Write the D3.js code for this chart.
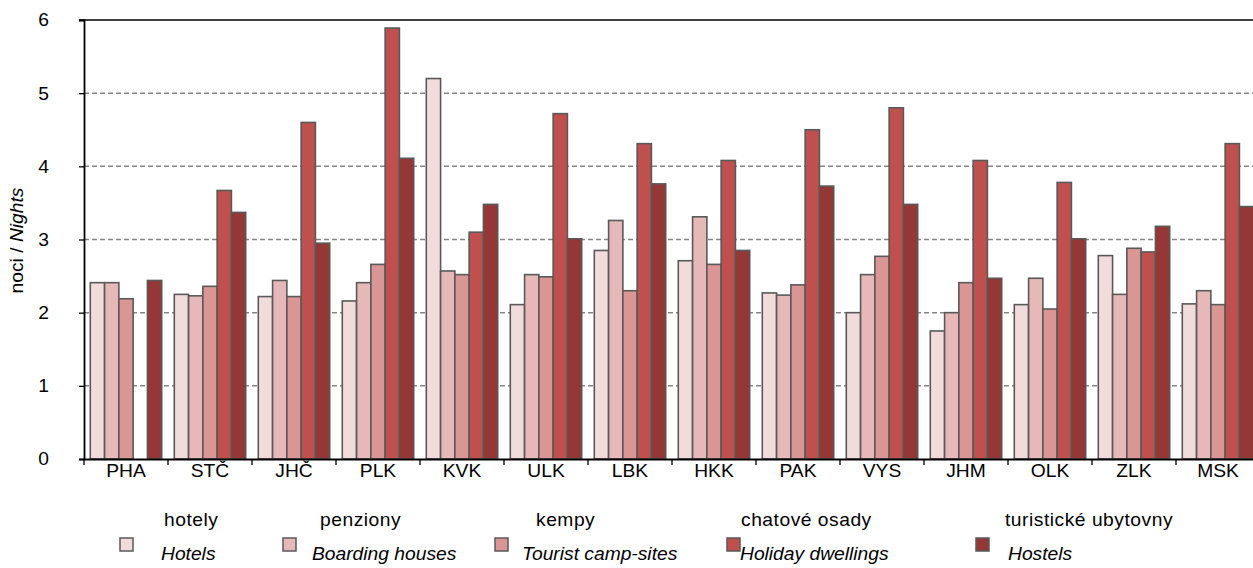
<!DOCTYPE html>
<html>
<head>
<meta charset="utf-8">
<script src="https://cdn.jsdelivr.net/npm/d3@7"></script>
<style>
  html, body { margin: 0; padding: 0; background: #fff; }
  svg { display: block; font-family: "Liberation Sans", Arial, sans-serif; }
</style>
</head>
<body>
<svg id="chart" width="1253" height="568"></svg>
<script>
// ---- data ----
const categories = ["PHA","STČ","JHČ","PLK","KVK","ULK","LBK","HKK","PAK","VYS","JHM","OLK","ZLK","MSK"];
const seriesCz = ["hotely","penziony","kempy","chatové osady","turistické ubytovny"];
const seriesEn = ["Hotels","Boarding houses","Tourist camp-sites","Holiday dwellings","Hostels"];
const hotely     = [2.41, 2.25, 2.22, 2.16, 5.20, 2.11, 2.85, 2.71, 2.27, 2.00, 1.75, 2.11, 2.78, 2.12];
const penziony   = [2.41, 2.23, 2.44, 2.41, 2.57, 2.52, 3.26, 3.31, 2.24, 2.52, 2.00, 2.47, 2.25, 2.30];
const kempy      = [2.19, 2.36, 2.22, 2.66, 2.52, 2.49, 2.30, 2.66, 2.38, 2.77, 2.41, 2.05, 2.88, 2.11];
const chatove    = [null, 3.67, 4.60, 5.89, 3.10, 4.72, 4.31, 4.08, 4.50, 4.80, 4.08, 3.78, 2.83, 4.31];
const turisticke = [2.44, 3.37, 2.95, 4.11, 3.48, 3.01, 3.76, 2.85, 3.73, 3.48, 2.47, 3.01, 3.18, 3.45];
const yTicks = [0, 1, 2, 3, 4, 5, 6];
const yTitleCz = "noci / ";
const yTitleEn = "Nights";

const seriesValues = [hotely, penziony, kempy, chatove, turisticke];
const colors = ["#F2DCDB", "#E6B9B8", "#D99694", "#C0504D", "#953735"];

// ---- layout ----
const svg = d3.select("#chart");
const pL = 84, pR = 1260, pT = 20, pB = 459;
const SX = 1.04; // horizontal text stretch
const FS = 18.5;
const FONT = '"Liberation Sans", Arial, sans-serif';

const x0 = d3.scaleBand().domain(categories).range([pL, pR]).paddingInner(0.15).paddingOuter(0.075);
const x1 = d3.scaleBand().domain(d3.range(seriesValues.length)).range([0, x0.bandwidth()]).padding(0);
const y = d3.scaleLinear().domain([0, 6]).range([pB, pT]);
const xCat = d3.scaleBand().domain(categories).range([pL, pR]);

// gridlines
svg.append("g").selectAll("line").data(yTicks.filter(t => t > 0 && t < 6)).join("line")
  .attr("x1", pL).attr("x2", 1253).attr("y1", d => y(d)).attr("y2", d => y(d))
  .attr("stroke", "#868686").attr("stroke-width", 1.5).attr("stroke-dasharray", "5,3");
svg.append("line").attr("x1", pL - 5).attr("x2", 1253).attr("y1", y(6)).attr("y2", y(6))
  .attr("stroke", "#000").attr("stroke-width", 1.6);

// bars
const rows = [];
categories.forEach((c, i) => seriesValues.forEach((s, j) => {
  if (s[i] != null) rows.push({ c, j, v: s[i] });
}));
svg.append("g").selectAll("rect").data(rows).join("rect")
  .attr("x", d => x0(d.c) + x1(d.j))
  .attr("width", x1.bandwidth())
  .attr("y", d => y(d.v))
  .attr("height", d => y(0) - y(d.v))
  .attr("fill", d => colors[d.j])
  .attr("stroke", "#595959").attr("stroke-width", 1.6);

// y axis
const yAxis = svg.append("g").attr("transform", `translate(${pL},0)`)
  .call(d3.axisLeft(y).tickValues(yTicks).tickSize(5).tickPadding(30).tickFormat(d3.format("d")));
yAxis.select(".domain").attr("stroke", "#000").attr("stroke-width", 1.8);
yAxis.selectAll(".tick line").attr("stroke", "#000").attr("stroke-width", 1.3);
yAxis.selectAll(".tick text").attr("font-size", FS).attr("fill", "#000")
  .attr("font-family", FONT)
  .attr("x", -35 / SX).attr("transform", `scale(${SX},1)`);

// x axis
const xAxis = svg.append("g").attr("transform", `translate(0,${pB})`)
  .call(d3.axisBottom(xCat).tickSize(0).tickPadding(5));
xAxis.select(".domain").attr("stroke", "#000").attr("stroke-width", 1.8);
xAxis.selectAll(".tick text").attr("font-size", FS).attr("fill", "#000")
  .attr("font-family", FONT)
  .attr("transform", `scale(${SX},1)`);
// boundary tick marks
svg.append("g").selectAll("line").data(d3.range(categories.length + 1)).join("line")
  .attr("x1", i => pL + i * xCat.step()).attr("x2", i => pL + i * xCat.step())
  .attr("y1", pB).attr("y2", pB + 6)
  .attr("stroke", "#000").attr("stroke-width", 1.3);

// y title
const yt = svg.append("g").attr("transform", `translate(17,${(pT + pB) / 2 + 1}) rotate(-90)`)
  .append("text").attr("text-anchor", "middle").attr("dy", "0.35em")
  .attr("font-size", FS).attr("transform", `scale(${SX},1)`);
yt.append("tspan").text(yTitleCz);
yt.append("tspan").attr("font-style", "italic").text(yTitleEn);

// legend
const legendSwatchX = [120, 283, 495, 727, 976];
const legendTextX = [164, 320, 536, 741, 1005];
const legendTextX2 = [161, 312, 522, 740, 1008];
const lg = svg.append("g");
seriesCz.forEach((s, i) => {
  lg.append("rect").attr("x", legendSwatchX[i]).attr("y", 538).attr("width", 13).attr("height", 13)
    .attr("fill", colors[i]).attr("stroke", "#595959").attr("stroke-width", 1.5);
  lg.append("g").attr("transform", `translate(${legendTextX[i]},526)`)
    .append("text").attr("font-size", FS).attr("transform", `scale(${SX},1)`)
    .attr("letter-spacing", 0.5).text(s);
  lg.append("g").attr("transform", `translate(${legendTextX2[i]},560)`)
    .append("text").attr("font-size", FS).attr("font-style", "italic")
    .attr("transform", `scale(${SX},1)`).text(seriesEn[i]);
});
</script>
</body>
</html>
